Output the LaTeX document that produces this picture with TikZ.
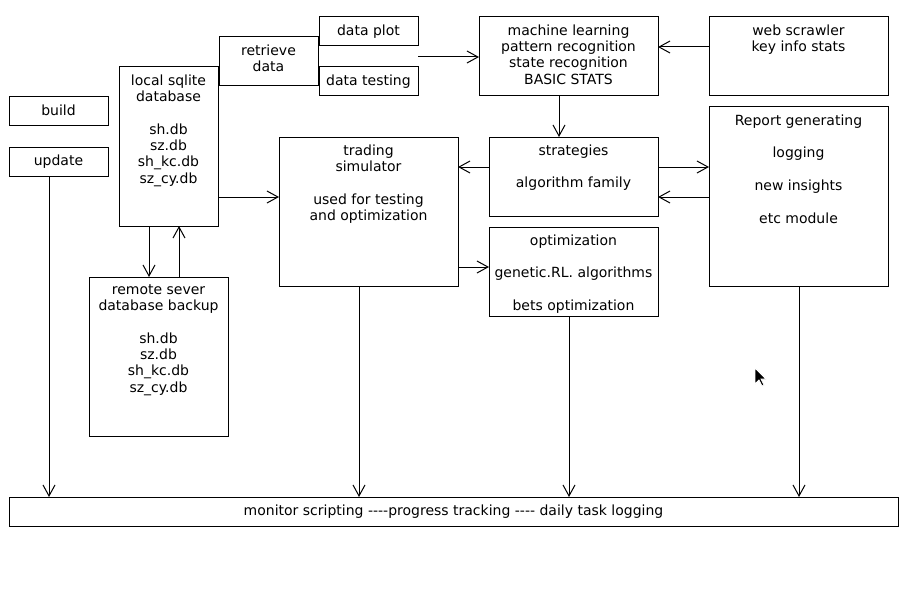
\documentclass[tikz,border=0pt]{standalone}
\usepackage{fontspec}
\newfontfamily\djv{DejaVu Sans}
\usetikzlibrary{arrows.meta}
\begin{document}
\begin{tikzpicture}[x=1pt,y=-1pt,
  box/.style={draw, line width=1pt, anchor=north west, inner sep=0pt, outer sep=0pt},
  txt/.style={anchor=north, inner sep=0pt, align=center,
    font=\djv\fontsize{14}{16.3}\selectfont, yshift=-7.4pt},
  arr/.style={line width=1pt, -{Straight Barb[length=11pt,width=12pt,line width=1pt]}}]
\fill[white] (0,0) rectangle (923,599);
\useasboundingbox (0,0) rectangle (923,599);

% boxes
\node[box, minimum width=99pt,  minimum height=29pt]  (build)   at (9,97)   {};
\node[box, minimum width=99pt,  minimum height=29pt]  (update)  at (9,147)  {};
\node[box, minimum width=99pt,  minimum height=159pt] (local)   at (119,67) {};
\node[box, minimum width=99pt,  minimum height=49pt]  (retr)    at (219,37) {};
\node[box, minimum width=99pt,  minimum height=29pt]  (plot)    at (319,17) {};
\node[box, minimum width=99pt,  minimum height=29pt]  (testing) at (319,67) {};
\node[box, minimum width=179pt, minimum height=79pt]  (ml)      at (479,17) {};
\node[box, minimum width=179pt, minimum height=79pt]  (web)     at (709,17) {};
\node[box, minimum width=169pt, minimum height=79pt]  (strat)   at (489,137) {};
\node[box, minimum width=179pt, minimum height=179pt] (report)  at (709,107) {};
\node[box, minimum width=179pt, minimum height=149pt] (trading) at (279,137) {};
\node[box, minimum width=169pt, minimum height=89pt]  (optim)   at (489,227) {};
\node[box, minimum width=139pt, minimum height=159pt] (remote)  at (89,277) {};
\node[box, minimum width=889pt, minimum height=29pt]  (monitor) at (9,497)  {};

% box texts
\node[txt] (buildt)   at (build.north)   {build};
\node[txt] (updatet)  at (update.north)  {update};
\node[txt] (localt)   at (local.north)   {local sqlite\\database\\[16.3pt]sh.db\\sz.db\\sh\_kc.db\\sz\_cy.db};
\node[txt] (retrt)    at (retr.north)    {retrieve\\data};
\node[txt] (plott)    at (plot.north)    {data plot};
\node[txt] (testingt) at (testing.north) {data testing};
\node[txt] (mlt)      at (ml.north)      {machine learning\\pattern recognition\\state recognition\\BASIC STATS};
\node[txt] (webt)     at (web.north)     {web scrawler\\key info stats};
\node[txt] (stratt)   at (strat.north)   {strategies\\[16.3pt]algorithm family};
\node[txt] (reportt)  at (report.north)  {Report generating\\[16.3pt]logging\\[16.3pt]new insights\\[16.3pt]etc module};
\node[txt] (tradingt) at (trading.north) {trading\\simulator\\[16.3pt]used for testing\\and optimization};
\node[txt] (optimt)   at (optim.north)   {optimization\\[16.3pt]genetic.RL. algorithms\\[16.3pt]bets optimization};
\node[txt] (remotet)  at (remote.north)  {remote sever\\database backup\\[16.3pt]sh.db\\sz.db\\sh\_kc.db\\sz\_cy.db};
\node[txt] (monitort) at (monitor.north) {monitor scripting ----progress tracking ---- daily task logging};

% connectors
\draw[arr] (plot.east |- 0,57)    -- (ml.west |- 0,57);
\draw[arr] (web.west |- 0,47)     -- (ml.east |- 0,47);
\draw[arr] (ml.south -| 559,0)    -- (strat.north -| 559,0);
\draw[arr] (strat.west |- 0,167)  -- (trading.east |- 0,167);
\draw[arr] (strat.east |- 0,167)  -- (report.west |- 0,167);
\draw[arr] (report.west |- 0,197) -- (strat.east |- 0,197);
\draw[arr] (local.east |- 0,197)  -- (trading.west |- 0,197);
\draw[arr] (trading.east |- 0,267) -- (optim.west |- 0,267);
\draw[arr] (local.south -| 149,0) -- (remote.north -| 149,0);
\draw[arr] (remote.north -| 179,0) -- (local.south -| 179,0);
\draw[arr] (update.south -| 49,0)  -- (monitor.north -| 49,0);
\draw[arr] (trading.south -| 359,0) -- (monitor.north -| 359,0);
\draw[arr] (optim.south -| 569,0)  -- (monitor.north -| 569,0);
\draw[arr] (report.south -| 799,0) -- (monitor.north -| 799,0);

% mouse pointer
\filldraw[fill=black, draw=white, line width=0.8pt]
  (755,368) -- (755,384) -- (759,380) -- (762,386) -- (764,385) -- (761,379) -- (766,379) -- cycle;
\end{tikzpicture}
\end{document}
